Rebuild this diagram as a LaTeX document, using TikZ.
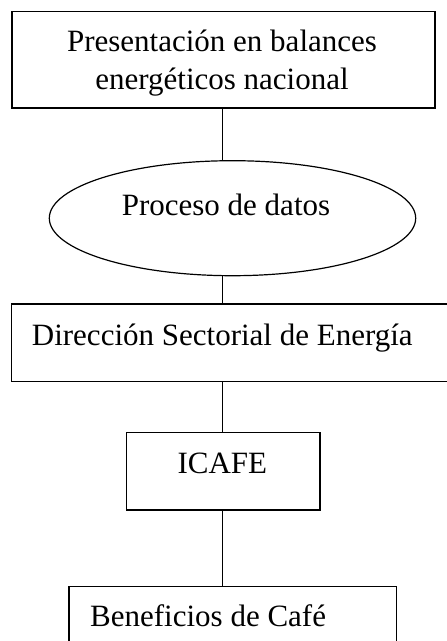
\documentclass[tikz,border=0pt]{standalone}
\usepackage{fontspec}
\setmainfont{Liberation Serif}
\usetikzlibrary{shapes.geometric}
\begin{document}
\begin{tikzpicture}[x=1pt,y=-1pt,
  box/.style={draw,line width=1.2pt,rectangle,inner sep=0pt},
  oval/.style={draw,line width=1.2pt,ellipse,inner sep=0pt},
  lbl/.style={inner sep=0pt,font=\fontsize{31}{37}\selectfont},
  conn/.style={line width=1.2pt}]
\useasboundingbox (0,0) rectangle (447,641);
\clip (0,0) rectangle (447,641);
\fill[white] (0,0) rectangle (447,641);
% boxes
\node[box,minimum width=423pt,minimum height=96.3pt] (b1) at (223.5,59.9) {};
\node[oval,minimum width=366.4pt,minimum height=115pt] (el) at (232.5,218.2) {};
\node[box,minimum width=450pt,minimum height=77.7pt] (b3) at (236.7,342.9) {};
\node[box,minimum width=193.3pt,minimum height=77.7pt] (b4) at (223.3,471.2) {};
\node[box,minimum width=327.7pt,minimum height=80pt] (b5) at (232.8,626.7) {};
% texts
\node[lbl,anchor=base] (t1a) at (222,51.7) {Presentación en balances};
\node[lbl,anchor=base] (t1b) at (222,89.3) {energéticos nacional};
\node[lbl,anchor=base] (t2) at (226,215) {Proceso de datos};
\node[lbl,anchor=base west] (t3) at (31.7,345) {Dirección Sectorial de Energía};
\node[lbl,anchor=base] (t4) at (222.3,473) {ICAFE};
\node[lbl,anchor=base west] (t5) at (90,626.7) {Beneficios de Café};
% connectors
\coordinate (cx) at (222.7,0);
\draw[conn] (cx |- b1.south) -- (cx |- el.north);
\draw[conn] (cx |- el.south) -- (cx |- b3.north);
\draw[conn] (cx |- b3.south) -- (cx |- b4.north);
\draw[conn] (cx |- b4.south) -- (cx |- b5.north);
\end{tikzpicture}
\end{document}
